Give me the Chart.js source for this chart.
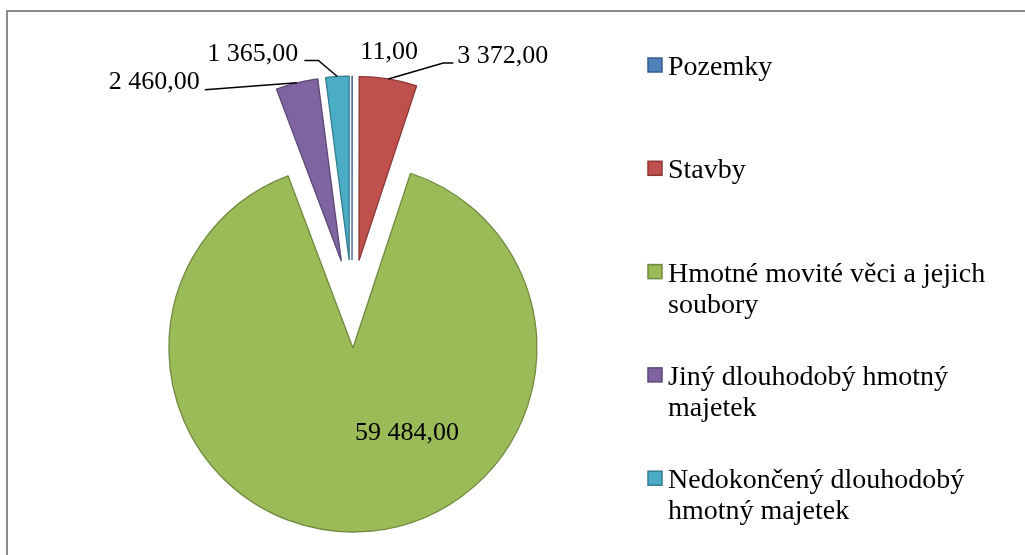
<!DOCTYPE html>
<html>
<head>
<meta charset="utf-8">
<script src="https://cdn.jsdelivr.net/npm/chart.js@4"></script>
<style>
  html, body { margin: 0; padding: 0; background: #fff; }
</style>
</head>
<body>
<canvas id="pieChart" width="1025" height="555"></canvas>
<script>
const categories = [
    'Pozemky',
    'Stavby',
    'Hmotné movité věci a jejich soubory',
    'Jiný dlouhodobý hmotný majetek',
    'Nedokončený dlouhodobý hmotný majetek'
];
const values = [11, 3372, 59484, 2460, 1365];
const fillColors = ['#4F81BD', '#C0504D', '#9BBB59', '#8064A2', '#4BACC6'];
const edgeColors = ['#385D8A', '#8C3836', '#71893F', '#5C4776', '#357D91'];

const FONT = '"Liberation Serif", "Times New Roman", serif';
const LABEL_SIZE = 26;
const LEGEND_SIZE = 28;
const EXPLODE = 44; // every slice is pulled out this far along its bisector

// data label placement, relative to the slice's outer midpoint ('edge') or its apex ('centre')
const labelLayout = [
    { at: 'edge', tx: 37, ty: -17, align: 'center' },
    { at: 'edge', tx: 69, ty: -16, align: 'left', leader: [[55, -16], [65, -16]] },
    { at: 'centre', tx: 54, ty: 92, align: 'center' },
    { at: 'edge', tx: -97, ty: 6, align: 'right', leader: [[-92, 7]] },
    { at: 'edge', tx: -39, ty: -15, align: 'right', leader: [[-19, -16], [-33, -16]] }
];

function czNumber(v) {
    const parts = v.toFixed(2).split('.');
    return parts[0].replace(/\B(?=(\d{3})+(?!\d))/g, ' ') + ',' + parts[1];
}

function wrapText(ctx, text, maxWidth) {
    const words = text.split(' ');
    const lines = [];
    let line = '';
    words.forEach(w => {
        const test = line ? line + ' ' + w : w;
        if (line && ctx.measureText(test).width > maxWidth) {
            lines.push(line);
            line = w;
        } else {
            line = test;
        }
    });
    lines.push(line);
    return lines;
}

// outer frame of the chart object
const framePlugin = {
    id: 'frame',
    beforeDraw(chart) {
        const ctx = chart.ctx;
        ctx.save();
        ctx.strokeStyle = '#8a8a8a';
        ctx.lineWidth = 2;
        ctx.strokeRect(7, 11, chart.width + 20, chart.height + 20);
        ctx.restore();
    }
};

// move each slice out along its bisector (real explode, radius unchanged)
const explodePlugin = {
    id: 'explode',
    afterDatasetsUpdate(chart) {
        chart.getDatasetMeta(0).data.forEach(arc => {
            const mid = (arc.startAngle + arc.endAngle) / 2;
            arc.x += EXPLODE * Math.cos(mid);
            arc.y += EXPLODE * Math.sin(mid);
        });
    }
};

const labelPlugin = {
    id: 'sliceLabels',
    afterDatasetsDraw(chart) {
        const ctx = chart.ctx;
        const data = chart.data.datasets[0].data;
        ctx.save();
        ctx.font = LABEL_SIZE + 'px ' + FONT;
        ctx.fillStyle = '#000';
        ctx.strokeStyle = '#000';
        ctx.lineWidth = 1.5;
        ctx.textBaseline = 'alphabetic';
        chart.getDatasetMeta(0).data.forEach((arc, i) => {
            const lay = labelLayout[i];
            const mid = (arc.startAngle + arc.endAngle) / 2;
            let ax = arc.x, ay = arc.y;
            if (lay.at === 'edge') {
                ax += arc.outerRadius * Math.cos(mid);
                ay += arc.outerRadius * Math.sin(mid);
            }
            if (lay.leader) {
                ctx.beginPath();
                ctx.moveTo(ax, ay);
                lay.leader.forEach(p => ctx.lineTo(ax + p[0], ay + p[1]));
                ctx.stroke();
            }
            ctx.textAlign = lay.align;
            ctx.fillText(czNumber(data[i]), ax + lay.tx, ay + lay.ty);
        });
        ctx.restore();
    }
};

const legendPlugin = {
    id: 'sideLegend',
    afterDraw(chart) {
        const ctx = chart.ctx;
        const x = 648, firstBase = 75, step = 103.3, lineH = 31, box = 14;
        ctx.save();
        ctx.font = LEGEND_SIZE + 'px ' + FONT;
        ctx.textAlign = 'left';
        ctx.textBaseline = 'alphabetic';
        categories.forEach((name, i) => {
            const base = firstBase + i * step;
            ctx.fillStyle = fillColors[i];
            ctx.fillRect(x, base - 17, box, box);
            ctx.strokeStyle = edgeColors[i];
            ctx.lineWidth = 1.5;
            ctx.strokeRect(x, base - 17, box, box);
            ctx.fillStyle = '#000';
            wrapText(ctx, name, 340).forEach((ln, j) => {
                ctx.fillText(ln, x + 20, base + j * lineH);
            });
        });
        ctx.restore();
    }
};

function createPieChart() {
    const ctx = document.getElementById('pieChart').getContext('2d');
    new Chart(ctx, {
        type: 'pie',
        data: {
            labels: categories,
            datasets: [{
                data: values,
                backgroundColor: fillColors,
                borderColor: edgeColors,
                borderWidth: 1.3,
                radius: 184,
                clip: false
            }]
        },
        options: {
            responsive: false,
            animation: false,
            events: [],
            layout: { padding: { left: 0, right: 321, top: 53, bottom: 0 } },
            plugins: {
                legend: { display: false },
                tooltip: { enabled: false }
            }
        },
        plugins: [framePlugin, explodePlugin, labelPlugin, legendPlugin]
    });
}

createPieChart();
</script>
</body>
</html>
